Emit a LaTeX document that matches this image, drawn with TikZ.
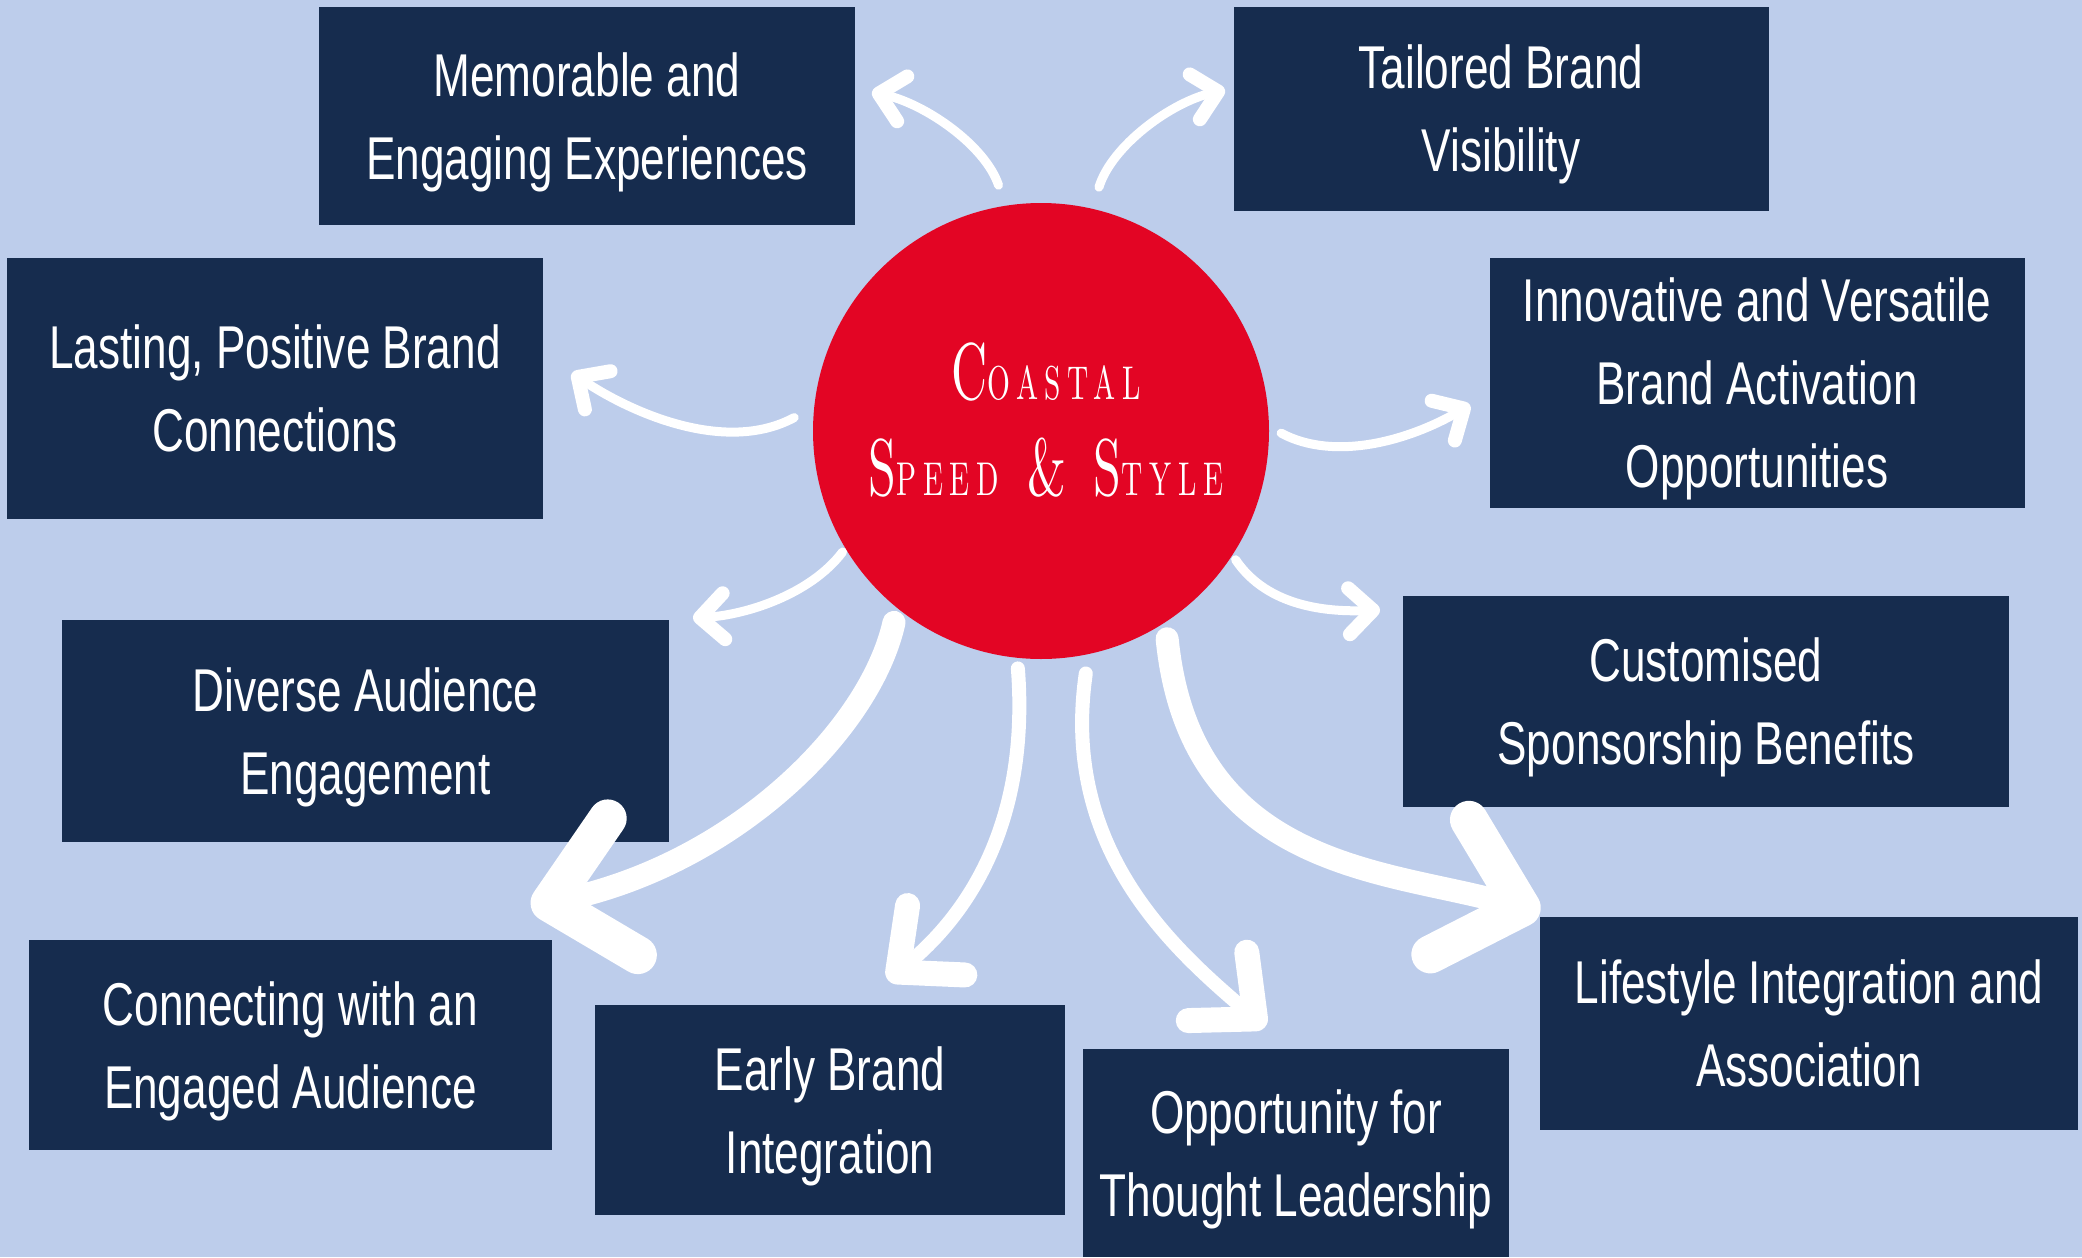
\documentclass[tikz,border=0pt]{standalone}
\usepackage{fontspec}
\usetikzlibrary{arrows.meta}
\newfontfamily\boxfont{Liberation Sans}[FakeStretch=0.73]
\newfontfamily\titlefont{lmroman10-regular.otf}[FakeStretch=0.62,LetterSpace=14]
\newcommand\pc[1]{{\fontsize{13.5pt}{13.5pt}\selectfont #1}}
\definecolor{fundo}{HTML}{BDCDEB}
\definecolor{marinho}{HTML}{162C4E}
\definecolor{vermelho}{HTML}{E30524}
\begin{document}
\begin{tikzpicture}[
  x=0.1mm, y=-0.1mm,
  every node/.style={inner sep=0pt, align=center}
]
\tikzset{
  caixa/.style={fill=marinho, text=white, text depth=0pt,
    font=\boxfont\fontsize{17.2pt}{23.6pt}\selectfont},
  centro/.style={circle, fill=vermelho, minimum size=45.6mm},
  titulo/.style={text=white, text depth=0pt, font=\titlefont\fontsize{22.9pt}{27.5pt}\selectfont},
  seta/.style={draw=white, line width=0.9mm, line cap=round,
    -{Straight Barb[length=2.4mm, width=4.6mm, line width=1.4mm, round]}},
  setamedia/.style={draw=white, line width=1.4mm, line cap=round,
    -{Straight Barb[length=5mm, width=9mm, line width=2.5mm, round]}},
  setagrande/.style={draw=white, line width=2.3mm, line cap=round,
    -{Straight Barb[length=7.5mm, width=14mm, line width=3.8mm, round]}}
}
\useasboundingbox (0,0) rectangle (2082,1257);
\fill[fundo] (0,0) rectangle (2082,1257);

\node[centro] (hub) at (1041,431) {};
\node[titulo] (tit) at (1046,419) {C\pc{OASTAL}\\S\pc{PEED} \& S\pc{TYLE}};

\node[caixa, minimum width=53.6mm, minimum height=21.8mm] (mem) at (587,116) {Memorable and\\Engaging Experiences};
\node[caixa, minimum width=53.5mm, minimum height=20.4mm] (tail) at (1501,108.5) {Tailored Brand\\Visibility};
\node[caixa, minimum width=53.6mm, minimum height=26.1mm] (last) at (275,388.5) {Lasting, Positive Brand\\Connections};
\node[caixa, minimum width=53.5mm, minimum height=25mm] (inov) at (1757,382.5) {Innovative and Versatile\\Brand Activation\\Opportunities};
\node[caixa, minimum width=60.7mm, minimum height=22.2mm] (div) at (365.5,731) {Diverse Audience\\Engagement};
\node[caixa, minimum width=60.6mm, minimum height=21.1mm] (pers) at (1706,701) {Customised\\Sponsorship Benefits};
\node[caixa, minimum width=52.3mm, minimum height=21mm] (conec) at (290.5,1045) {Connecting with an\\Engaged Audience};
\node[caixa, minimum width=47mm, minimum height=21mm] (early) at (830,1110) {Early Brand\\Integration};
\node[caixa, minimum width=42.6mm, minimum height=20.8mm] (opor) at (1296,1153) {Opportunity for\\Thought Leadership};
\node[caixa, minimum width=53.8mm, minimum height=21.3mm] (life) at (1809,1023.5) {Lifestyle Integration and\\Association};

% pontas das setas
\coordinate (pMem) at (872,92);
\coordinate (pTail) at (1225,90);
\coordinate (pLast) at (572,373);
\coordinate (pInov) at (1470,405);
\coordinate (pDiv) at (693,618);
\coordinate (pPers) at (1380,610);
\coordinate (pConec) at (531,907);
\coordinate (pEarly) at (888,980);
\coordinate (pOpor) at (1265,1027);
\coordinate (pLife) at (1540,913);

\draw[seta, shorten <=2.1mm] (hub.99) .. controls (985,145) and (925,104) .. (pMem);
\draw[seta, shorten <=2.2mm] (hub.77) .. controls (1112,145) and (1172,102) .. (pTail);
\draw[seta, shorten <=2.2mm] (hub.174) .. controls (725,455) and (630,412) .. (pLast);
\draw[seta, shorten <=1.3mm] (hub.1) .. controls (1335,462) and (1410,440) .. (pInov);
\draw[seta, shorten <=0.4mm] (hub.211) .. controls (810,595) and (745,615) .. (pDiv);
\draw[seta, shorten <=0.5mm] (hub.327) .. controls (1268,608) and (1330,612) .. (pPers);
\draw[setagrande, shorten <=1.4mm] (hub.231) .. controls (870,730) and (735,862) .. (pConec);
\draw[setamedia, shorten <=1mm] (hub.264) .. controls (1028,800) and (985,900) .. (pEarly);
\draw[setamedia, shorten <=1.9mm] (hub.282) .. controls (1060,850) and (1175,950) .. (pOpor);
\draw[setagrande, shorten <=1.6mm] (hub.303) .. controls (1190,870) and (1390,870) .. (pLife);
\end{tikzpicture}
\end{document}
